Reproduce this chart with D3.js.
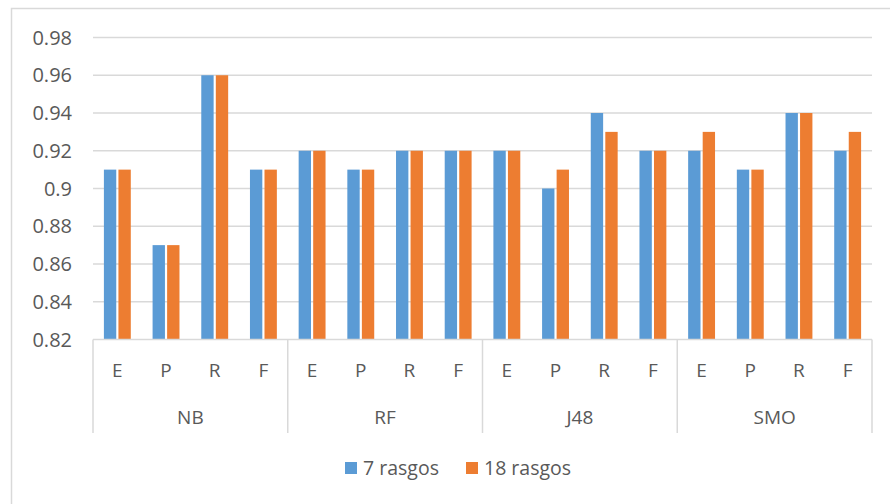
<!DOCTYPE html>
<html>
<head>
<meta charset="utf-8">
<title>7 vs 18 rasgos</title>
<style>
  body { margin: 0; background: #fff; }
  text { font-family: "Open Sans", "Liberation Sans", sans-serif; fill: #595959; }
</style>
</head>
<body>
<div id="chart"></div>
<script src="https://cdn.jsdelivr.net/npm/d3@7"></script>
<script>
var groups = ["NB", "RF", "J48", "SMO"];
var metrics = ["E", "P", "R", "F"];
var seriesNames = ["7 rasgos", "18 rasgos"];
var rasgos7 = [0.91, 0.87, 0.96, 0.91, 0.92, 0.91, 0.92, 0.92, 0.92, 0.90, 0.94, 0.92, 0.92, 0.91, 0.94, 0.92];
var rasgos18 = [0.91, 0.87, 0.96, 0.91, 0.92, 0.91, 0.92, 0.92, 0.92, 0.91, 0.93, 0.92, 0.93, 0.91, 0.94, 0.93];
var yTicks = [0.82, 0.84, 0.86, 0.88, 0.9, 0.92, 0.94, 0.96, 0.98];
var colors = ["#5B9BD5", "#ED7D31"];

var width = 890, height = 504;
var plotLeft = 93, plotRight = 872, plotTop = 37.5, plotBottom = 339.5;

var svg = d3.select("#chart").append("svg")
  .attr("width", width).attr("height", height);

// chart frame
svg.append("rect")
  .attr("x", 11.5).attr("y", 8.5)
  .attr("width", width).attr("height", height)
  .attr("fill", "none").attr("stroke", "#D9D9D9").attr("stroke-width", 1.5);

var y = d3.scaleLinear().domain([0.82, 0.98]).range([plotBottom, plotTop]);
var xg = d3.scaleBand().domain(groups).range([plotLeft, plotRight]);
var xm = d3.scaleBand().domain(metrics).range([0, xg.bandwidth()]);
var xs = d3.scaleBand().domain(seriesNames).range([0, xm.bandwidth()]).paddingOuter(0.75).paddingInner(0.15);

// gridlines
svg.append("g").selectAll("line")
  .data(yTicks.slice(1))
  .enter().append("line")
  .attr("x1", plotLeft).attr("x2", plotRight)
  .attr("y1", function(d) { return y(d); })
  .attr("y2", function(d) { return y(d); })
  .attr("stroke", "#D9D9D9").attr("stroke-width", 1.5);

// y labels
svg.append("g").selectAll("text")
  .data(yTicks)
  .enter().append("text")
  .attr("x", 72)
  .attr("y", function(d) { return y(d); })
  .attr("dy", "0.35em")
  .attr("text-anchor", "end")
  .attr("font-size", 20)
  .text(function(d) { return d3.format("")(d); });

// bars
var rows = [];
groups.forEach(function(g, gi) {
  metrics.forEach(function(m, mi) {
    var i = gi * metrics.length + mi;
    rows.push({ g: g, m: m, s: seriesNames[0], v: rasgos7[i], c: colors[0] });
    rows.push({ g: g, m: m, s: seriesNames[1], v: rasgos18[i], c: colors[1] });
  });
});

svg.append("g").selectAll("rect")
  .data(rows)
  .enter().append("rect")
  .attr("x", function(d) { return xg(d.g) + xm(d.m) + xs(d.s); })
  .attr("y", function(d) { return y(d.v); })
  .attr("width", xs.bandwidth())
  .attr("height", function(d) { return plotBottom - y(d.v); })
  .attr("fill", function(d) { return d.c; });

// category axis
var axis = svg.append("g");
axis.append("line")
  .attr("x1", plotLeft).attr("x2", plotRight)
  .attr("y1", plotBottom).attr("y2", plotBottom)
  .attr("stroke", "#D9D9D9").attr("stroke-width", 1.5);

var seps = groups.map(function(g) { return xg(g); }).concat([plotRight]);
axis.selectAll("line.sep")
  .data(seps)
  .enter().append("line")
  .attr("class", "sep")
  .attr("x1", function(d) { return d; }).attr("x2", function(d) { return d; })
  .attr("y1", plotBottom).attr("y2", 433)
  .attr("stroke", "#D9D9D9").attr("stroke-width", 1.5);

var cells = [];
groups.forEach(function(g) {
  metrics.forEach(function(m) { cells.push({ g: g, m: m }); });
});
axis.selectAll("text.metric")
  .data(cells)
  .enter().append("text")
  .attr("class", "metric")
  .attr("x", function(d) { return xg(d.g) + xm(d.m) + xm.bandwidth() / 2; })
  .attr("y", 370)
  .attr("dy", "0.35em")
  .attr("text-anchor", "middle")
  .attr("font-size", 19)
  .text(function(d) { return d.m; });

axis.selectAll("text.group")
  .data(groups)
  .enter().append("text")
  .attr("class", "group")
  .attr("x", function(d) { return xg(d) + xg.bandwidth() / 2; })
  .attr("y", 417)
  .attr("dy", "0.35em")
  .attr("text-anchor", "middle")
  .attr("font-size", 19)
  .text(function(d) { return d; });

// legend
var legendX = [345, 466];
var legend = svg.append("g").selectAll("g")
  .data(seriesNames)
  .enter().append("g")
  .attr("transform", function(d, i) { return "translate(" + legendX[i] + ",468)"; });
legend.append("rect")
  .attr("x", 0).attr("y", -6)
  .attr("width", 12).attr("height", 12)
  .attr("fill", function(d, i) { return colors[i]; });
legend.append("text")
  .attr("x", 18).attr("y", 0)
  .attr("dy", "0.35em")
  .attr("font-size", 19.5)
  .text(function(d) { return d; });
</script>
</body>
</html>
